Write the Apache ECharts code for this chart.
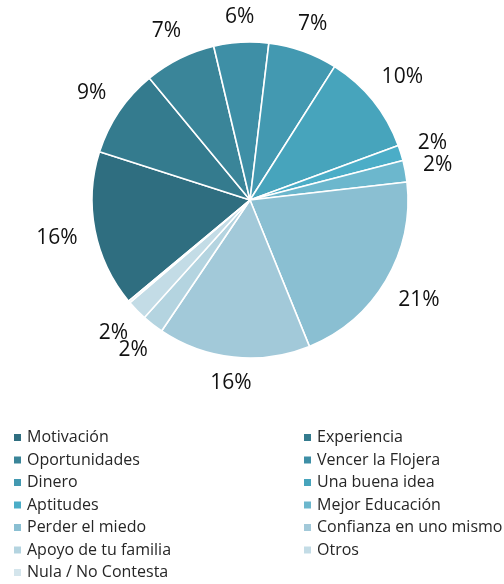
<!DOCTYPE html>
<html>
<head>
<meta charset="utf-8">
<script src="https://cdn.jsdelivr.net/npm/echarts@6/dist/echarts.min.js"></script>
<style>
  html, body { margin: 0; padding: 0; background: #fff; }
  #main { width: 504px; height: 584px; }
</style>
</head>
<body>
<div id="main"></div>
<script>
// categorias y valores (porcentaje)
var categorias = ['Motivación', 'Experiencia', 'Oportunidades', 'Vencer la Flojera', 'Dinero',
  'Una buena idea', 'Aptitudes', 'Mejor Educación', 'Perder el miedo', 'Confianza en uno mismo',
  'Apoyo de tu familia', 'Otros', 'Nula / No Contesta'];
var valores = [16.0, 9.1, 7.3, 5.6, 7.1, 10.4, 1.6, 2.2, 20.7, 15.6, 2.2, 2.1, 0.2];
var colores = ['#2f6e80', '#347b8e', '#3a8599', '#3e8fa6', '#4399b1', '#47a4bc', '#4badc7',
  '#6cb7cd', '#8abfd2', '#a2c9d9', '#b4d4e0', '#c3dce6', '#d4e5ec'];
var columnaIzq = ['Motivación', 'Oportunidades', 'Dinero', 'Aptitudes', 'Perder el miedo',
  'Apoyo de tu familia', 'Nula / No Contesta'];
var columnaDer = ['Experiencia', 'Vencer la Flojera', 'Una buena idea', 'Mejor Educación',
  'Confianza en uno mismo', 'Otros'];

var fuente = '"Open Sans", Lato, sans-serif';

var datos = [];
for (var i = 0; i < categorias.length; i++) {
  var item = { name: categorias[i], value: valores[i] };
  if (categorias[i] === 'Nula / No Contesta') {
    item.label = { show: false };
  }
  datos.push(item);
}

function leyenda(nombres, left) {
  return {
    data: nombres,
    orient: 'vertical',
    left: left,
    top: 429.5,
    height: 160,
    padding: 0,
    itemWidth: 9,
    itemHeight: 9,
    itemGap: 6.5,
    icon: 'rect',
    selectedMode: false,
    textStyle: { fontFamily: fuente, fontSize: 16, color: '#262626', lineHeight: 16 }
  };
}

var myChart = echarts.init(document.getElementById('main'));
var option = {
  animation: false,
  color: colores,
  legend: [leyenda(columnaIzq, 12), leyenda(columnaDer, 302)],
  series: [
    {
      type: 'pie',
      center: [250, 200],
      radius: 158,
      startAngle: 219.8,
      clockwise: true,
      avoidLabelOverlap: false,
      itemStyle: { borderColor: '#fff', borderWidth: 1.6 },
      label: {
        show: true,
        position: 'outside',
        fontFamily: fuente,
        fontSize: 21,
        color: '#111',
        formatter: function (p) { return Math.round(p.percent) + '%'; }
      },
      labelLine: { show: true, length: 10, length2: 0, lineStyle: { width: 0, opacity: 0 } },
      // etiquetas centradas por fuera del borde, como en Excel
      labelLayout: function (p) {
        var pts = p.labelLinePoints;
        if (!pts || pts.length < 2) return {};
        var x1 = pts[0][0], y1 = pts[0][1];
        var vx = pts[1][0] - x1, vy = pts[1][1] - y1;
        var len = Math.sqrt(vx * vx + vy * vy) || 1;
        vx /= len; vy /= len;
        var hw = p.labelRect.width / 2, hh = p.labelRect.height / 2;
        var t = 17 + hw * Math.abs(vx) + 0.7 * hh * Math.abs(vy);
        return { x: x1 + vx * t, y: y1 + vy * t, align: 'center', verticalAlign: 'middle' };
      },
      data: datos
    }
  ]
};
myChart.setOption(option);
</script>
</body>
</html>
